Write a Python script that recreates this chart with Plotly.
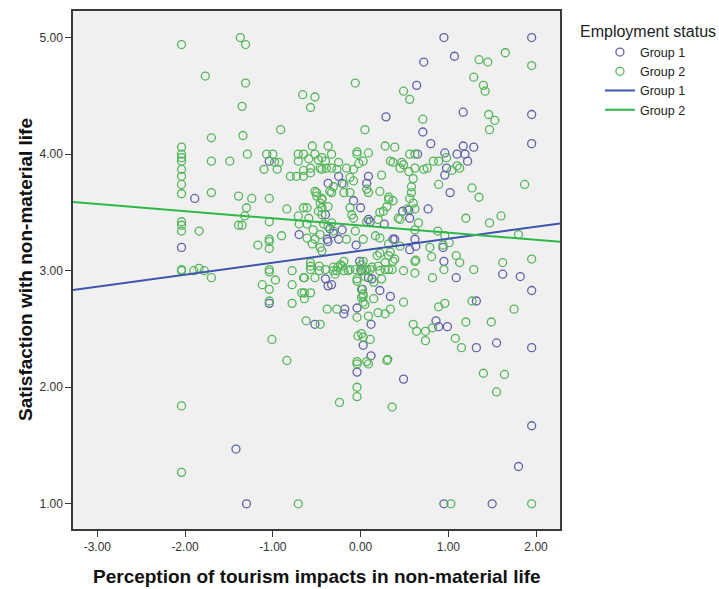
import plotly.graph_objects as go

# ---------------- data ----------------
group1_points = [
    (-1.89, 3.62), (-2.04, 3.20), (-1.42, 1.47), (-1.30, 1.00), (-1.04, 3.94),
    (-0.37, 3.75), (-0.70, 3.31), (-0.40, 3.48), (-0.37, 3.25), (-0.35, 3.36),
    (-1.04, 2.72), (-0.40, 2.93), (-0.37, 2.87), (-0.33, 2.88), (-0.52, 2.54),
    (-0.18, 2.67), (-0.19, 2.63), (-0.04, 2.68), (-0.04, 2.13), (0.22, 2.83),
    (0.34, 2.78), (0.12, 2.54), (0.03, 2.36), (0.12, 2.27), (0.49, 2.07),
    (0.86, 2.57), (0.89, 2.52), (0.99, 2.52), (1.32, 2.74), (1.32, 2.34),
    (1.55, 2.38), (1.95, 2.34), (1.95, 1.67), (1.80, 1.32), (0.95, 1.00),
    (1.50, 1.00), (0.95, 5.00), (1.95, 5.00), (1.07, 4.84), (0.72, 4.79),
    (0.64, 4.59), (0.29, 4.32), (1.17, 4.36), (1.95, 4.34), (1.95, 4.09),
    (0.71, 4.19), (0.80, 4.09), (1.17, 4.07), (1.29, 4.06), (1.10, 4.00),
    (1.19, 4.00), (1.22, 3.94), (0.96, 4.01), (0.98, 3.88), (0.96, 3.82),
    (1.02, 3.67), (0.65, 4.00), (0.09, 3.81), (0.07, 3.75), (-0.21, 3.75),
    (-0.25, 3.81), (1.62, 2.97), (1.82, 2.95), (1.95, 2.83), (1.09, 2.94),
    (0.95, 3.08), (0.94, 3.20), (0.77, 3.53), (0.62, 3.27), (0.63, 3.21),
    (0.56, 3.18), (0.39, 3.27), (0.37, 3.27), (0.56, 3.45), (0.48, 3.51),
    (0.55, 3.52), (0.27, 3.40), (0.09, 3.44), (0.11, 3.42), (-0.05, 3.22),
    (0.00, 3.54), (-0.08, 3.60), (-0.21, 3.35), (-0.38, 3.27), (-0.25, 3.27),
    (-0.31, 3.32), (-0.01, 3.08), (0.01, 3.00), (0.09, 2.94), (0.13, 2.93),
    (0.02, 2.84),
]

group2_points = [
    # x = -2.04 column and far left
    (-2.04, 4.94), (-2.04, 4.06), (-2.04, 4.00), (-2.04, 3.97), (-2.04, 3.94),
    (-2.04, 3.87), (-2.04, 3.81), (-2.04, 3.74), (-2.04, 3.66), (-2.04, 3.42),
    (-2.04, 3.39), (-2.04, 3.34), (-2.04, 3.01), (-2.04, 3.00), (-2.04, 1.84),
    (-2.04, 1.27),
    # upper left
    (-1.37, 5.00), (-1.31, 4.94), (-1.77, 4.67), (-1.31, 4.61), (-0.66, 4.51),
    (-0.52, 4.49), (-0.57, 4.40), (-1.35, 4.41), (-0.91, 4.21), (-1.70, 4.14),
    (-1.34, 4.16), (-1.29, 4.00), (-1.49, 3.94), (-1.70, 3.94),
    (-1.07, 4.00), (-1.00, 4.00), (-0.98, 3.93), (-0.93, 3.93), (-1.10, 3.87),
    (-0.95, 3.87), (-0.71, 4.00), (-0.65, 4.00), (-0.55, 4.07), (-0.37, 4.07),
    (-0.52, 4.00), (-0.44, 3.97), (-0.33, 4.00), (-0.46, 3.88), (-0.39, 3.88),
    (-0.33, 3.88), (-0.80, 3.81), (-0.73, 3.81), (-0.65, 3.81), (-0.57, 3.88),
    (-0.57, 3.84), (-0.71, 3.94), (-0.52, 3.68), (-0.50, 3.67), (-0.33, 3.67),
    (-1.70, 3.67), (-1.39, 3.64), (-1.24, 3.62), (-1.04, 3.62),
    # dense centre, upper part
    (-0.04, 4.02), (0.09, 4.01), (0.28, 4.07), (0.39, 4.06), (0.56, 4.00),
    (0.62, 4.00), (0.34, 3.94), (0.37, 3.93), (0.47, 3.93), (0.49, 3.91),
    (-0.59, 3.96), (-0.48, 3.95), (-0.40, 3.94), (-0.25, 3.93), (-0.44, 3.87),
    (-0.27, 3.87), (-0.16, 3.88), (-0.08, 3.87), (-0.02, 3.92), (0.03, 3.94),
    (-0.65, 3.86), (0.62, 3.88), (0.72, 3.87), (0.55, 3.85), (0.45, 3.88),
    (0.24, 3.82), (-0.12, 3.80), (-0.08, 3.77), (-0.19, 3.74), (-0.31, 3.72),
    (0.60, 3.79), (0.58, 3.72), (0.07, 3.70), (0.09, 3.67), (0.22, 3.68),
    (0.58, 3.67), (-0.50, 3.64), (-0.44, 3.62), (-0.46, 3.58), (-0.44, 3.54),
    (-0.48, 3.51), (-0.35, 3.68), (-0.19, 3.67), (-0.12, 3.67), (-0.61, 3.54),
    (-0.12, 3.54), (-0.10, 3.48), (-0.08, 3.45), (0.32, 3.61), (0.37, 3.60),
    (0.30, 3.55), (0.26, 3.51), (0.22, 3.50), (0.56, 3.62), (0.60, 3.58),
    (0.66, 3.41), (0.62, 3.35), (0.07, 3.42), (0.20, 3.44), (0.45, 3.44),
    (-0.65, 3.54), (-0.59, 3.45), (-0.61, 3.40), (-0.54, 3.35), (-0.46, 3.31),
    (-0.42, 3.40), (-0.37, 3.38), (-0.31, 3.34), (-0.06, 3.34), (-0.16, 3.27),
    (0.03, 3.27), (0.17, 3.30), (0.22, 3.28), (0.32, 3.23), (0.45, 3.21),
    (-0.61, 3.28), (-0.55, 3.23), (-0.46, 3.20), (-0.44, 3.17),
    (0.76, 3.88), (0.83, 3.94), (0.89, 3.94), (-0.04, 4.00),
    # upper right
    (-0.06, 4.61), (0.05, 4.21), (0.49, 4.54), (0.56, 4.47), (0.71, 4.30),
    (1.65, 4.87), (1.35, 4.81), (1.45, 4.79), (1.95, 4.76), (1.29, 4.66),
    (1.40, 4.59), (1.42, 4.54), (1.46, 4.34), (1.53, 4.29), (1.47, 4.21),
    (0.98, 3.97), (1.10, 3.90), (1.04, 3.86), (1.13, 3.88), (0.89, 3.74),
    (1.27, 3.71), (1.35, 3.63), (1.87, 3.74),
    # middle left
    (-1.30, 3.54), (-1.32, 3.47), (-1.39, 3.39), (-1.35, 3.39), (-1.04, 3.42),
    (-0.84, 3.53), (-0.71, 3.47), (-0.70, 3.40), (-0.52, 3.27), (-0.44, 3.61),
    (-0.37, 3.55), (-0.44, 3.48),
    (-1.84, 3.34), (-1.90, 3.00), (-1.84, 3.02), (-1.78, 3.00), (-1.70, 2.94),
    (-1.17, 3.22), (-1.04, 3.27), (-1.04, 3.25), (-1.04, 3.19), (-0.90, 3.30),
    (-1.04, 3.01), (-1.04, 2.99), (-0.97, 2.92), (-1.12, 2.88), (-1.04, 2.84),
    (-1.04, 2.74), (-0.78, 3.00), (-0.78, 2.88), (-0.78, 2.72), (-0.64, 2.94),
    (-0.64, 2.81), (-0.57, 2.81), (-0.64, 2.76), (-0.57, 3.07), (-0.57, 3.04),
    (-0.57, 3.01), (-0.47, 3.04), (-0.47, 3.00), (-0.40, 3.01), (-0.52, 2.94),
    (-0.38, 2.67), (-0.62, 2.57), (-0.46, 2.54), (-1.01, 2.41), (-0.84, 2.23),
    # lower centre
    (-0.04, 2.60), (-0.03, 2.44), (-0.04, 2.20), (-0.04, 2.00), (-0.04, 1.92),
    (-0.24, 1.87), (-0.71, 1.00),
    (-0.31, 3.03), (-0.27, 3.00), (-0.21, 3.04), (-0.12, 3.01), (-0.06, 3.01),
    (0.00, 3.01), (0.07, 3.01), (0.13, 3.03), (0.28, 3.01),
    (0.19, 3.13), (0.22, 3.15), (0.32, 3.13), (0.34, 3.16), (0.37, 3.08),
    (0.39, 3.10), (0.28, 3.07), (0.32, 3.01), (0.36, 3.01), (0.20, 3.04),
    (0.22, 3.00), (0.03, 3.08), (0.01, 3.05), (0.05, 3.00), (0.11, 3.01),
    (-0.19, 3.08), (-0.23, 3.05), (-0.26, 3.03), (-0.31, 3.00), (-0.29, 2.97),
    (-0.19, 3.00), (-0.14, 3.00), (-0.04, 2.91), (0.15, 2.90), (0.24, 2.93),
    (0.03, 2.78), (0.03, 2.73), (-0.27, 2.67), (-0.04, 2.22), (0.07, 2.22),
    (0.31, 2.24), (-0.33, 3.41),
    (-0.65, 2.94), (-0.04, 2.93), (0.05, 2.95), (0.62, 3.08), (-0.67, 2.81),
    (0.01, 2.84), (0.03, 2.80), (0.01, 2.77), (0.05, 2.71), (0.15, 2.76),
    (0.49, 2.73), (0.09, 2.61), (0.20, 2.64), (0.28, 2.63), (0.34, 2.67),
    (0.01, 2.46), (0.03, 2.43), (0.11, 2.41), (0.09, 2.20), (0.30, 2.23),
    (0.60, 2.54), (0.64, 2.48), (0.74, 2.48), (0.74, 2.40), (0.36, 1.83),
    # right side
    (1.20, 3.45), (1.47, 3.41), (1.60, 3.47), (1.80, 3.31), (1.95, 3.10),
    (1.62, 3.07), (1.75, 2.67), (1.29, 3.01), (1.09, 3.13), (1.13, 3.07),
    (0.95, 3.01), (0.94, 3.22), (1.01, 3.24), (0.82, 2.94), (0.81, 3.12),
    (0.79, 3.20), (0.63, 3.09), (0.62, 2.98), (0.49, 3.00), (0.88, 3.34),
    (0.96, 3.30), (0.53, 3.53), (0.62, 3.53), (0.43, 3.45), (0.32, 3.63),
    (0.89, 2.69), (0.96, 2.72), (1.27, 2.74), (0.82, 2.51), (1.20, 2.56),
    (1.49, 2.56), (1.08, 2.42), (1.15, 2.34), (1.40, 2.12), (1.64, 2.11),
    (1.55, 1.96), (1.03, 1.00), (1.95, 1.00),
]

# linear fit lines (intercept, slope) per group
fit_group1 = (3.171, 0.103)
fit_group2 = (3.388, -0.0616)

group_names = ["Group 1", "Group 2"]
x_ticks = [-3, -2, -1, 0, 1, 2]
x_tick_labels = ["-3.00", "-2.00", "-1.00", "0.00", "1.00", "2.00"]
y_ticks = [1, 2, 3, 4, 5]
y_tick_labels = ["1.00", "2.00", "3.00", "4.00", "5.00"]
x_range = [-3.277, 2.273]
y_range = [0.784, 5.228]

# ---------------- styling ----------------
C_BLUE_PT = "#5F62A8"
C_GREEN_PT = "#55B65A"
C_BLUE_LN = "#3E55AC"
C_GREEN_LN = "#2EB848"
FONT = "Liberation Sans, Arial, sans-serif"

fig = go.Figure()

for pts, name, col in [(group1_points, group_names[0], C_BLUE_PT),
                       (group2_points, group_names[1], C_GREEN_PT)]:
    fig.add_trace(go.Scatter(
        x=[p[0] for p in pts], y=[p[1] for p in pts], mode="markers", name=name,
        marker=dict(symbol="circle-open", size=8, color=col, line=dict(width=1.3, color=col)),
    ))

for fit, name, col in [(fit_group1, group_names[0], C_BLUE_LN),
                       (fit_group2, group_names[1], C_GREEN_LN)]:
    b0, b1 = fit
    fig.add_trace(go.Scatter(
        x=x_range, y=[b0 + b1 * x_range[0], b0 + b1 * x_range[1]],
        mode="lines", name=name, line=dict(color=col, width=2),
    ))

axis_common = dict(
    showgrid=False, zeroline=False, showline=True, linecolor="#3A3A3A", linewidth=1.5,
    mirror=True, ticks="outside", ticklen=6, tickcolor="#3A3A3A", tickwidth=1,
    tickfont=dict(family=FONT, size=12, color="#333333"),
)

fig.update_xaxes(range=x_range, tickvals=x_ticks, ticktext=x_tick_labels, **axis_common)
fig.update_yaxes(range=y_range, tickvals=y_ticks, ticktext=y_tick_labels, **axis_common)

fig.update_layout(
    width=719, height=589,
    margin=dict(l=73, r=159, t=9, b=60),
    paper_bgcolor="white", plot_bgcolor="#F0F0F0",
    font=dict(family=FONT, size=12, color="#222222"),
    showlegend=True,
    legend=dict(x=1.082, y=0.949, xanchor="left", yanchor="top",
                font=dict(family=FONT, size=12.5, color="#222222"),
                bgcolor="rgba(0,0,0,0)", tracegroupgap=0, itemwidth=30),
    annotations=[
        dict(text="Employment status", x=1.037, y=1 - (30 - 9) / 520, xref="paper", yref="paper",
             xanchor="left", yanchor="middle", showarrow=False,
             font=dict(family=FONT, size=16, color="#222222")),
        dict(text="<b>Perception of tourism impacts in non-material life</b>",
             x=0.5, y=1 - (577 - 9) / 520, xref="paper", yref="paper", showarrow=False,
             xanchor="center", yanchor="middle",
             font=dict(family=FONT, size=19, color="#111111")),
        dict(text="<b>Satisfaction with non-material life</b>",
             x=(25 - 73) / 487, y=0.5, xref="paper", yref="paper", showarrow=False, textangle=-90,
             xanchor="center", yanchor="middle",
             font=dict(family=FONT, size=19, color="#111111")),
    ],
)

fig.write_html("out.html", config={"displayModeBar": False},
               post_script="document.body.style.margin='0px';")
